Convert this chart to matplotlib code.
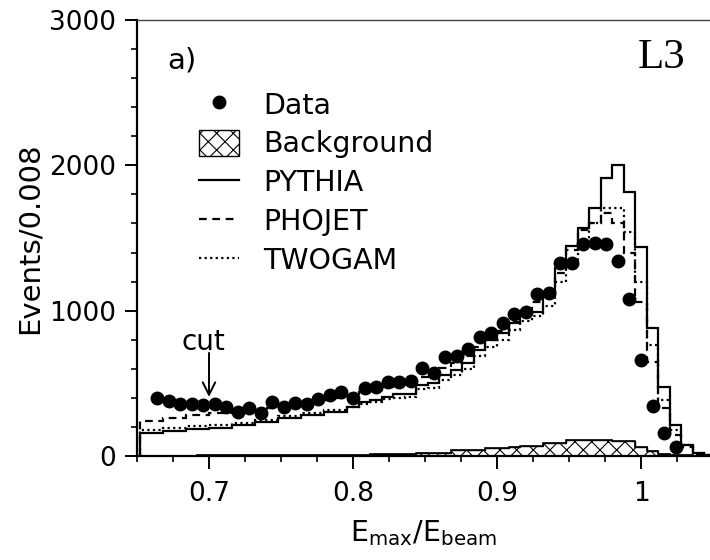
import numpy as np
import matplotlib
matplotlib.use('Agg')
import matplotlib.pyplot as plt
from matplotlib.lines import Line2D
from matplotlib.patches import Patch
from matplotlib.ticker import MultipleLocator, FixedLocator

plt.rcParams['font.family'] = ['DejaVu Sans']
plt.rcParams['hatch.linewidth'] = 0.8

# 0.008 wide bins, MC histograms start one bin before the data
bin_start = 0.652
bin_width = 0.008

data_events = [397, 381, 356, 358, 351, 356, 335, 301, 332, 294,
               370, 335, 363, 358, 390, 420, 443, 397, 470, 477,
               507, 507, 518, 608, 573, 679, 688, 736, 817, 849,
               913, 977, 989, 1115, 1124, 1330, 1330, 1457, 1468, 1457,
               1344, 1078, 661, 346, 156, 64]

pythia = [156, 156, 172, 172, 186, 186, 190, 190, 213, 213,
          236, 236, 259, 259, 282, 282, 305, 305, 340, 374,
          385, 408, 427, 427, 489, 500, 557, 595, 640, 730,
          795, 845, 913, 978, 990, 1100, 1292, 1445, 1571, 1704,
          1911, 2003, 1819, 1441, 883, 473, 213, 76, 18, 5]

phojet = [243, 243, 259, 259, 282, 282, 298, 298, 305, 310,
          318, 328, 338, 348, 360, 372, 388, 400, 418, 438,
          452, 472, 492, 508, 542, 568, 608, 640, 688, 748,
          800, 860, 920, 985, 1060, 1120, 1257, 1418, 1555, 1600,
          1670, 1601, 1395, 1062, 649, 328, 145, 64, 15, 4]

twogam = [179, 179, 195, 195, 205, 205, 212, 212, 230, 230,
          250, 250, 272, 272, 295, 295, 318, 318, 340, 360,
          372, 390, 402, 408, 458, 470, 522, 558, 600, 690,
          750, 800, 870, 930, 960, 1030, 1200, 1292, 1480, 1600,
          1704, 1704, 1544, 1200, 764, 385, 179, 76, 18, 5]

background = [3, 3, 3, 3, 3, 4, 4, 4, 4, 5,
              5, 5, 6, 6, 6, 7, 7, 8, 9, 10,
              11, 12, 14, 14, 20, 23, 23, 41, 41, 41,
              55, 55, 62, 70, 72, 90, 90, 110, 110, 110,
              108, 100, 100, 64, 36, 12, 8, 5, 3, 2]

edges = bin_start + bin_width * np.arange(len(pythia) + 1)
centers = 0.5 * (edges[:-1] + edges[1:])
data_x = centers[1:1 + len(data_events)]

fig = plt.figure(figsize=(7.1, 5.6), dpi=100)
ax = fig.add_axes([137 / 710, 1 - 456 / 560, 1 - 137 / 710, 436 / 560])

ax.stairs(background, edges, fill=True, facecolor='white', edgecolor='black',
          hatch='xx', linewidth=1.0, zorder=1)
ax.stairs(background, edges, color='black', linewidth=1.2, zorder=1.5)
ax.stairs(pythia, edges, color='black', linewidth=1.6, linestyle='-', zorder=2)
ax.stairs(phojet, edges, color='black', linewidth=1.6, linestyle=(0, (3.5, 2.5)), zorder=2)
ax.stairs(twogam, edges, color='black', linewidth=1.6, linestyle=(0, (1, 1.5)), zorder=2)
ax.plot(data_x, data_events, 'o', color='black', markersize=9, zorder=3)

ax.set_xlim(0.65, 0.65 + (710 - 137) / 1440)
ax.set_ylim(0, 3000)

ax.xaxis.set_major_locator(FixedLocator([0.7, 0.8, 0.9, 1.0]))
ax.set_xticklabels(['0.7', '0.8', '0.9', '1'])
ax.xaxis.set_minor_locator(MultipleLocator(0.025))
ax.yaxis.set_major_locator(MultipleLocator(1000))
ax.yaxis.set_minor_locator(MultipleLocator(200))
ax.tick_params(which='major', direction='out', length=9, width=1.4, labelsize=19)
ax.tick_params(axis='x', which='major', pad=9)
ax.tick_params(axis='y', which='major', pad=6)
ax.tick_params(which='minor', direction='out', length=4, width=1.2)
ax.spines['right'].set_visible(False)
for s in ['left', 'bottom']:
    ax.spines[s].set_linewidth(1.6)
ax.spines['top'].set_linewidth(1.0)
ax.spines['top'].set_color('#444444')

ax.set_xlabel(r'$\mathregular{E_{max}/E_{beam}}$', fontsize=20.5, labelpad=8)
ax.set_ylabel('Events/0.008', fontsize=21, labelpad=4)

ax.text(0.052, 0.908, 'a)', transform=ax.transAxes, fontsize=21, va='center', ha='left')
ax.text(0.916, 0.914, 'L3', transform=ax.transAxes, fontsize=31, va='center', ha='center',
        family='Liberation Serif')

# cut marker at 0.7
ax.annotate('', xy=(0.7, 406), xytext=(0.7, 709),
            arrowprops=dict(arrowstyle='->,head_length=0.9,head_width=0.45', lw=1.4,
                            color='black', shrinkA=0, shrinkB=0))
ax.text(0.696, 730, 'cut', fontsize=20, ha='center', va='baseline')

handles = [Line2D([], [], marker='o', ls='none', color='black', markersize=9),
           Patch(facecolor='white', edgecolor='black', hatch='xx', lw=1.0),
           Line2D([], [], color='black', lw=1.6, ls='-'),
           Line2D([], [], color='black', lw=1.6, ls=(0, (3.5, 2.5))),
           Line2D([], [], color='black', lw=1.6, ls=(0, (1, 1.5)))]
labels = ['Data', 'Background', 'PYTHIA', 'PHOJET', 'TWOGAM']
ax.legend(handles, labels, loc='upper left', bbox_to_anchor=(0.108, 0.838),
          frameon=False, fontsize=20.5, handlelength=1.4, handleheight=1.05,
          handletextpad=0.85, labelspacing=0.35, borderpad=0, borderaxespad=0,
          numpoints=1)

fig.savefig('out.png', dpi=100)
